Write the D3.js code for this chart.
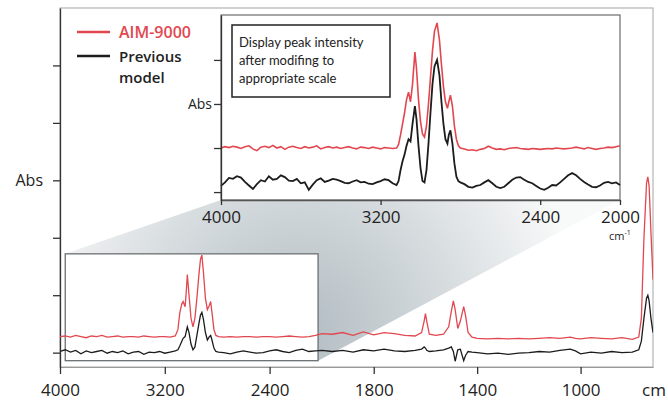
<!DOCTYPE html>
<html>
<head>
<meta charset="utf-8">
<script src="https://cdnjs.cloudflare.com/ajax/libs/d3/7.8.5/d3.min.js"></script>
<style>
  body { margin: 0; background: #fff; }
  text { font-family: "Open Sans", sans-serif; }
</style>
</head>
<body>
<div id="chart"></div>
<script>
// wavenumbers (cm-1) for the full spectrum
const mainWave = [4000, 3960, 3920, 3880, 3840, 3800, 3760, 3720, 3680, 3640, 3600, 3560, 3520, 3480, 3440, 3400, 3360, 3320, 3280, 3240, 3200, 3160, 3120,
  3100, 3085, 3070, 3060, 3045, 3035, 3028, 3015, 3000, 2985, 2970, 2955, 2940, 2928, 2917, 2905, 2890, 2875, 2860, 2850, 2840, 2825, 2810, 2790,
  2750, 2700, 2650, 2600, 2550, 2500, 2450, 2400, 2350, 2300, 2250, 2200, 2150, 2100, 2050, 2000,
  1960, 1920, 1880, 1840, 1800, 1760, 1720, 1680, 1640, 1615, 1605, 1600, 1595, 1585, 1560, 1530, 1510, 1500, 1492, 1485, 1475, 1465, 1452, 1445, 1435, 1420,
  1400, 1360, 1320, 1280, 1240, 1200, 1160, 1120, 1080, 1040, 1020, 1000, 960, 920, 880, 840, 800, 775, 765, 755, 745, 740, 735, 728, 720]
// AIM-9000 (red)
const mainRed = [0.28, 0.29, 0.27, 0.30, 0.28, 0.26, 0.29, 0.28, 0.30, 0.27, 0.28, 0.29, 0.27, 0.28, 0.28, 0.27, 0.29, 0.28, 0.27, 0.28, 0.28, 0.27, 0.29,
  0.40, 0.70, 0.85, 0.89, 0.80, 1.10, 1.36, 1.00, 0.60, 0.45, 0.60, 0.95, 1.35, 1.62, 1.70, 1.40, 0.95, 0.75, 0.82, 0.89, 0.70, 0.40, 0.30, 0.28,
  0.27, 0.28, 0.27, 0.28, 0.28, 0.27, 0.28, 0.28, 0.27, 0.28, 0.29, 0.28, 0.27, 0.28, 0.30, 0.33,
  0.32, 0.35, 0.30, 0.36, 0.31, 0.35, 0.33, 0.30, 0.29, 0.35, 0.55, 0.68, 0.55, 0.32, 0.30, 0.32, 0.45, 0.72, 0.90, 0.75, 0.42, 0.55, 0.80, 0.65, 0.35, 0.27,
  0.25, 0.24, 0.25, 0.24, 0.25, 0.24, 0.25, 0.26, 0.25, 0.27, 0.25, 0.24, 0.26, 0.25, 0.24, 0.26, 0.23, 0.27, 0.60, 2.00, 2.95, 3.06, 2.90, 2.10, 1.27]
// previous model (black)
const mainBlack = [0.02, 0.05, 0.01, 0.04, -0.02, 0.03, 0.00, 0.02, 0.04, -0.01, 0.02, 0.00, 0.03, -0.02, 0.01, 0.02, -0.03, 0.01, 0.00, 0.02, -0.01, 0.01, 0.03,
  0.05, 0.12, 0.20, 0.25, 0.28, 0.38, 0.45, 0.35, 0.15, 0.05, 0.10, 0.30, 0.50, 0.65, 0.70, 0.58, 0.35, 0.22, 0.28, 0.30, 0.22, 0.08, 0.02, 0.01,
  0.00, -0.02, 0.01, 0.03, 0.01, -0.01, 0.00, 0.03, 0.05, 0.02, 0.00, 0.04, 0.06, 0.02, 0.03, 0.04,
  0.02, 0.04, 0.01, 0.05, 0.03, 0.06, 0.03, 0.02, 0.04, 0.06, 0.10, 0.08, 0.04, 0.02, 0.03, 0.05, 0.08, 0.10, 0.02, -0.15, 0.05, 0.06, -0.14, -0.05, 0.02, 0.01,
  0.00, -0.02, -0.01, -0.03, -0.01, 0.00, 0.02, 0.01, 0.04, 0.06, 0.03, -0.02, 0.01, -0.01, 0.02, 0.00, 0.01, 0.05, 0.20, 0.60, 0.95, 1.00, 0.90, 0.60, 0.35]

// wavenumbers for the rescaled inset (4000-2000)
const insetWave = [4000, 3980, 3960, 3940, 3920, 3900, 3880, 3860, 3840, 3820, 3800, 3780, 3760, 3740, 3720, 3700, 3680, 3660, 3640, 3620, 3600, 3580, 3560,
  3540, 3520, 3500, 3480, 3460, 3440, 3420, 3400, 3380, 3360, 3340, 3320, 3300, 3280, 3260, 3240, 3220, 3200, 3180, 3160, 3140, 3120,
  3110, 3100, 3090, 3080, 3070, 3060, 3050, 3040, 3028, 3020, 3010, 3000, 2990, 2980, 2970, 2960, 2950, 2940, 2930, 2917, 2905, 2895, 2885, 2875,
  2865, 2858, 2850, 2840, 2830, 2820, 2810, 2800,
  2780, 2760, 2740, 2720, 2700, 2680, 2660, 2640, 2620, 2600, 2580, 2560, 2540, 2520, 2500, 2480, 2460, 2440, 2420, 2400,
  2380, 2360, 2340, 2320, 2300, 2280, 2260, 2240, 2220, 2200, 2180, 2160, 2140, 2120, 2100, 2080, 2060, 2040, 2020, 2000]
const insetRed = [1.00, 1.03, 1.01, 1.04, 1.02, 0.99, 1.03, 1.05, 0.98, 0.94, 1.02, 1.04, 1.01, 1.06, 1.00, 1.03, 0.97, 1.02, 1.04, 1.01, 0.99, 1.03, 1.00,
  1.02, 1.05, 0.98, 1.01, 1.03, 1.00, 1.02, 0.99, 1.01, 1.03, 1.00, 0.98, 1.02, 1.01, 0.99, 1.02, 1.00, 0.98, 1.01, 1.00, 0.99, 1.00,
  1.08, 1.30, 1.55, 1.80, 2.10, 2.27, 2.05, 2.45, 3.18, 2.80, 2.10, 1.60, 1.32, 1.25, 1.50, 2.00, 2.60, 3.20, 3.65, 3.84, 3.45, 2.90, 2.40, 2.05,
  1.90, 2.05, 2.20, 1.95, 1.50, 1.20, 1.05, 1.00,
  0.98, 0.95, 0.96, 0.94, 0.97, 0.99, 1.04, 1.00, 0.97, 0.98, 0.96, 0.99, 1.00, 1.01, 0.99, 0.98, 0.97, 0.99, 0.98, 0.97,
  0.98, 0.99, 0.98, 1.00, 0.99, 0.98, 0.99, 1.00, 1.02, 1.00, 0.98, 1.01, 0.99, 0.97, 0.99, 1.00, 1.02, 1.01, 1.03, 1.05]
const insetBlack = [0.14, 0.22, 0.32, 0.30, 0.36, 0.33, 0.23, 0.15, 0.07, 0.18, 0.27, 0.24, 0.36, 0.28, 0.30, 0.38, 0.34, 0.26, 0.25, 0.30, 0.20, 0.22, 0.05,
  0.17, 0.27, 0.31, 0.23, 0.26, 0.30, 0.28, 0.25, 0.21, 0.20, 0.24, 0.27, 0.22, 0.23, 0.19, 0.18, 0.22, 0.25, 0.29, 0.27, 0.20, 0.16,
  0.25, 0.50, 0.70, 0.85, 1.05, 1.20, 1.15, 1.55, 1.95, 1.65, 1.05, 0.55, 0.25, 0.22, 0.50, 1.10, 1.80, 2.45, 2.85, 3.00, 2.65, 2.05, 1.55, 1.20,
  1.10, 1.30, 1.40, 1.10, 0.65, 0.35, 0.25, 0.22,
  0.18, 0.12, 0.10, 0.14, 0.16, 0.22, 0.27, 0.20, 0.12, 0.09, 0.12, 0.20, 0.28, 0.33, 0.34, 0.28, 0.23, 0.20, 0.14, 0.08,
  0.05, 0.10, 0.16, 0.15, 0.22, 0.30, 0.38, 0.43, 0.38, 0.30, 0.23, 0.17, 0.12, 0.11, 0.15, 0.21, 0.23, 0.20, 0.22, 0.16]

// tick labels
const mainTicks = [4000, 3200, 2400, 1800, 1400, 1000]
const insetTicks = [4000, 3200, 2400, 2000]
const mainYTicks = [0, 1, 2, 3, 4, 5]
const insetYTicks = [0, 1, 2, 3]
// region of the main chart that the inset enlarges: [wave from, wave to, abs low, abs high]
const zoomBox = [3960, 2030, -0.14, 1.72]
const seriesNames = ["AIM-9000", "Previous", "model"]
const noteLines = ["Display peak intensity", "after modifing to", "appropriate scale"]

const red = "#e2474f"
const black = "#1c1c1c"

const svgWidth = 668
const svgHeight = 400

const svg = d3.select("#chart")
  .append("svg")
  .attr("width", svgWidth)
  .attr("height", svgHeight)

// scales - the x axis changes pitch at 2000 cm-1
const xMain = d3.scaleLinear().domain([4000, 2000, 720]).range([60, 322, 653])
const yMain = d3.scaleLinear().domain([-0.25, 6]).range([367, 8])
const xInset = d3.scaleLinear().domain([4000, 2000]).range([221, 620])
const yInset = d3.scaleLinear().domain([-0.18, 4.02]).range([200, 15])

// shading gradient for the zoom guide
const defs = svg.append("defs")
const grad = defs.append("radialGradient")
  .attr("id", "shade")
  .attr("gradientUnits", "userSpaceOnUse")
  .attr("cx", 300).attr("cy", 330).attr("r", 280)
grad.append("stop").attr("offset", 0).attr("stop-color", "#b2bcc2")
grad.append("stop").attr("offset", 0.5).attr("stop-color", "#d3d9dc")
grad.append("stop").attr("offset", 1).attr("stop-color", "#f8f9f9")

defs.append("clipPath").attr("id", "mainClip")
  .append("rect")
  .attr("x", xMain.range()[0]).attr("y", yMain.range()[1])
  .attr("width", xMain.range()[2] - xMain.range()[0])
  .attr("height", yMain.range()[0] - yMain.range()[1])

// main frame
svg.append("rect")
  .attr("x", xMain.range()[0])
  .attr("y", yMain.range()[1])
  .attr("width", xMain.range()[2] - xMain.range()[0])
  .attr("height", yMain.range()[0] - yMain.range()[1])
  .attr("fill", "none")
  .attr("stroke", "#b4b4b4")
  .attr("stroke-width", 1.2)

// zoom guide polygon
const zx0 = xMain(zoomBox[0]), zx1 = xMain(zoomBox[1])
const zyLow = yMain(zoomBox[2]), zyHigh = yMain(zoomBox[3])
const ix0 = xInset.range()[0], ix1 = xInset.range()[1], iyBottom = yInset.range()[0], iyTop = yInset.range()[1]

svg.append("polygon")
  .attr("points", [[zx0, zyHigh], [ix0, iyBottom], [ix1, iyBottom], [zx1, zyLow], [zx1, zyHigh]].map(p => p.join(",")).join(" "))
  .attr("fill", "url(#shade)")

// main axes
const xAxisMain = svg.append("g")
  .attr("transform", `translate(0, ${yMain.range()[0]})`)
  .call(d3.axisBottom(xMain).tickValues(mainTicks).tickSize(7).tickSizeOuter(0).tickPadding(10).tickFormat(d3.format("d")))
xAxisMain.select(".domain").attr("stroke", "#9a9a9a").attr("stroke-width", 1.2)
xAxisMain.selectAll(".tick line").attr("stroke", "#333").attr("stroke-width", 1.3)
xAxisMain.selectAll("text").attr("font-size", 17).attr("fill", "#222").style("font-family", "Open Sans")

const yAxisMain = svg.append("g")
  .attr("transform", `translate(${xMain.range()[0]}, 0)`)
  .call(d3.axisLeft(yMain).tickValues(mainYTicks).tickSize(7).tickSizeOuter(0).tickFormat(""))
yAxisMain.select(".domain").attr("stroke", "#333").attr("stroke-width", 1.3)
yAxisMain.selectAll(".tick line").attr("stroke", "#333").attr("stroke-width", 1.3)

svg.append("text")
  .attr("x", 642)
  .attr("y", 396)
  .attr("font-size", 17)
  .attr("fill", "#222")
  .text("cm")

svg.append("text")
  .attr("x", 43)
  .attr("y", yMain(3))
  .attr("dy", "0.35em")
  .attr("text-anchor", "end")
  .attr("font-size", 16)
  .attr("fill", "#222")
  .text("Abs")

// zoomed region box
svg.append("rect")
  .attr("x", zx0).attr("y", zyHigh)
  .attr("width", zx1 - zx0).attr("height", zyLow - zyHigh)
  .attr("fill", "#fff")
  .attr("stroke", "#6a6f72")
  .attr("stroke-width", 1.3)

// main spectra
const mainLine = d3.line()
  .x((d, i) => xMain(mainWave[i]))
  .y(d => yMain(d))

const mainGroup = svg.append("g").attr("clip-path", "url(#mainClip)")
mainGroup.append("path")
  .attr("d", mainLine(mainRed))
  .attr("fill", "none")
  .attr("stroke", red)
  .attr("stroke-width", 1.3)
mainGroup.append("path")
  .attr("d", mainLine(mainBlack))
  .attr("fill", "none")
  .attr("stroke", black)
  .attr("stroke-width", 1.3)

// inset panel
svg.append("rect")
  .attr("x", ix0).attr("y", iyTop)
  .attr("width", ix1 - ix0).attr("height", iyBottom - iyTop)
  .attr("fill", "#fff")
  .attr("stroke", "#777")
  .attr("stroke-width", 1.3)

const insetLine = d3.line()
  .x((d, i) => xInset(insetWave[i]))
  .y(d => yInset(d))

svg.append("path")
  .attr("d", insetLine(insetRed))
  .attr("fill", "none")
  .attr("stroke", red)
  .attr("stroke-width", 1.6)
svg.append("path")
  .attr("d", insetLine(insetBlack))
  .attr("fill", "none")
  .attr("stroke", black)
  .attr("stroke-width", 1.8)

const xAxisInset = svg.append("g")
  .attr("transform", `translate(0, ${iyBottom})`)
  .call(d3.axisBottom(xInset).tickValues(insetTicks).tickSize(5).tickSizeOuter(0).tickPadding(6).tickFormat(d3.format("d")))
xAxisInset.select(".domain").attr("stroke", "#555").attr("stroke-width", 1.3)
xAxisInset.selectAll(".tick line").attr("stroke", "#333").attr("stroke-width", 1.3)
xAxisInset.selectAll("text").attr("font-size", 17).attr("fill", "#222").style("font-family", "Open Sans")

// unit under the inset axis
const unit = svg.append("text")
  .attr("x", 609)
  .attr("y", 240)
  .attr("font-size", 11)
  .attr("fill", "#222")
unit.append("tspan").text("cm")
unit.append("tspan").attr("dy", -5).attr("font-size", 7).text("-1")

const yAxisInset = svg.append("g")
  .attr("transform", `translate(${ix0}, 0)`)
  .call(d3.axisLeft(yInset).tickValues(insetYTicks).tickSize(7).tickSizeOuter(0).tickFormat(""))
yAxisInset.select(".domain").attr("stroke", "#333").attr("stroke-width", 1.3)
yAxisInset.selectAll(".tick line").attr("stroke", "#333").attr("stroke-width", 1.3)

svg.append("text")
  .attr("x", ix0 - 9)
  .attr("y", yInset(2))
  .attr("dy", "0.35em")
  .attr("text-anchor", "end")
  .attr("font-size", 14)
  .attr("fill", "#222")
  .text("Abs")

// note box
svg.append("rect")
  .attr("x", 232).attr("y", 25)
  .attr("width", 158).attr("height", 72)
  .attr("fill", "#fff")
  .attr("stroke", "#222")
  .attr("stroke-width", 1.5)

svg.selectAll(".note")
  .data(noteLines)
  .enter()
  .append("text")
  .attr("class", "note")
  .attr("x", 239)
  .attr("y", (d, i) => 47 + i * 18)
  .attr("font-size", 13)
  .attr("fill", "#222")
  .style("font-family", "Lato")
  .text(d => d)

// legend
svg.append("line")
  .attr("x1", 77).attr("x2", 110).attr("y1", 32).attr("y2", 32)
  .attr("stroke", red).attr("stroke-width", 2.5)
svg.append("line")
  .attr("x1", 77).attr("x2", 110).attr("y1", 56).attr("y2", 56)
  .attr("stroke", black).attr("stroke-width", 2.5)

svg.append("text")
  .attr("x", 119).attr("y", 38)
  .attr("font-size", 16).attr("font-weight", 600)
  .attr("fill", red)
  .text(seriesNames[0])

svg.selectAll(".legend-prev")
  .data(seriesNames.slice(1))
  .enter()
  .append("text")
  .attr("class", "legend-prev")
  .attr("x", 119)
  .attr("y", (d, i) => 62 + i * 21)
  .attr("font-size", 15).attr("font-weight", 600)
  .attr("fill", "#222")
  .text(d => d)
</script>
</body>
</html>
